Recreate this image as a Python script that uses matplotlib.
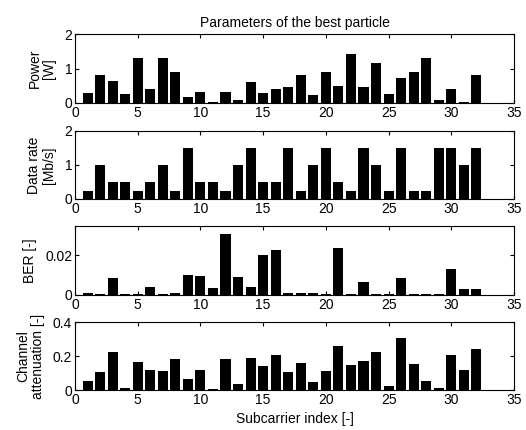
import numpy as np
import matplotlib
matplotlib.use('Agg')
import matplotlib.pyplot as plt

plt.rcParams['font.family'] = ['Liberation Sans', 'DejaVu Sans']
plt.rcParams['font.size'] = 10

# Subcarrier index 1..32
subcarriers = list(range(1, 33))

power = [0.28, 0.8, 0.65, 0.25, 1.3, 0.4, 1.3, 0.9, 0.16, 0.32, 0.03, 0.32,
         0.08, 0.6, 0.3, 0.4, 0.45, 0.8, 0.22, 0.9, 0.5, 1.42, 0.45, 1.15,
         0.25, 0.72, 0.9, 1.3, 0.08, 0.4, 0.03, 0.8]

data_rate = [0.25, 1, 0.5, 0.5, 0.25, 0.5, 1, 0.25, 1.5, 0.5, 0.5, 0.25,
             1, 1.5, 0.5, 0.5, 1.5, 0.25, 1, 1.5, 0.5, 0.25, 1.5, 1,
             0.25, 1.5, 0.25, 0.25, 1.5, 1.5, 1, 1.5]

ber = [0.001, 0.0005, 0.0083, 0.0005, 0.0005, 0.0042, 0.0005, 0.001,
       0.0102, 0.0097, 0.0033, 0.0308, 0.0092, 0.0042, 0.0202, 0.0225,
       0.001, 0.001, 0.001, 0.0005, 0.0238, 0.0005, 0.0065, 0.0005,
       0.0005, 0.0087, 0.0005, 0.0005, 0.0005, 0.0133, 0.0032, 0.0032]

attenuation = [0.051, 0.104, 0.222, 0.01, 0.163, 0.118, 0.11, 0.184,
               0.065, 0.118, 0.006, 0.182, 0.033, 0.19, 0.139, 0.206,
               0.104, 0.157, 0.045, 0.11, 0.26, 0.145, 0.172, 0.222,
               0.022, 0.304, 0.151, 0.051, 0.012, 0.206, 0.118, 0.243]

panels = [
    (power, 'Power\n[W]', (0, 2), [0, 1, 2], ['0', '1', '2']),
    (data_rate, 'Data rate\n[Mb/s]', (0, 2), [0, 1, 2], ['0', '1', '2']),
    (ber, 'BER [-]', (0, 0.0347), [0, 0.02], ['0', '0.02']),
    (attenuation, 'Channel\nattenuation [-]', (0, 0.4), [0, 0.2, 0.4], ['0', '0.2', '0.4']),
]

W, H = 526, 430
fig = plt.figure(figsize=(W / 100, H / 100), dpi=100)

# axes boxes in pixels (top, bottom)
boxes = [(34, 103), (131, 199), (226, 295), (322, 390)]
left, right = 75, 514

for (vals, label, ylim, yt, ytl), (top, bottom) in zip(panels, boxes):
    ax = fig.add_axes([left / W, 1 - bottom / H, (right - left) / W, (bottom - top) / H])
    ax.bar(subcarriers, vals, width=0.8, color='black', edgecolor='none')
    ax.set_xlim(0, 35)
    ax.set_ylim(*ylim)
    ax.set_xticks(range(0, 36, 5))
    ax.set_yticks(yt)
    ax.set_yticklabels(ytl)
    ax.tick_params(direction='in', top=True, right=True, length=3, pad=2)
    ax.set_ylabel(label, linespacing=1.05, labelpad=6)
    for s in ax.spines.values():
        s.set_linewidth(0.8)
    if top == boxes[0][0]:
        ax.set_title('Parameters of the best particle', fontsize=10, pad=5)
    if top == boxes[-1][0]:
        ax.set_xlabel('Subcarrier index [-]', labelpad=4)

fig.savefig('out.png', dpi=100)
